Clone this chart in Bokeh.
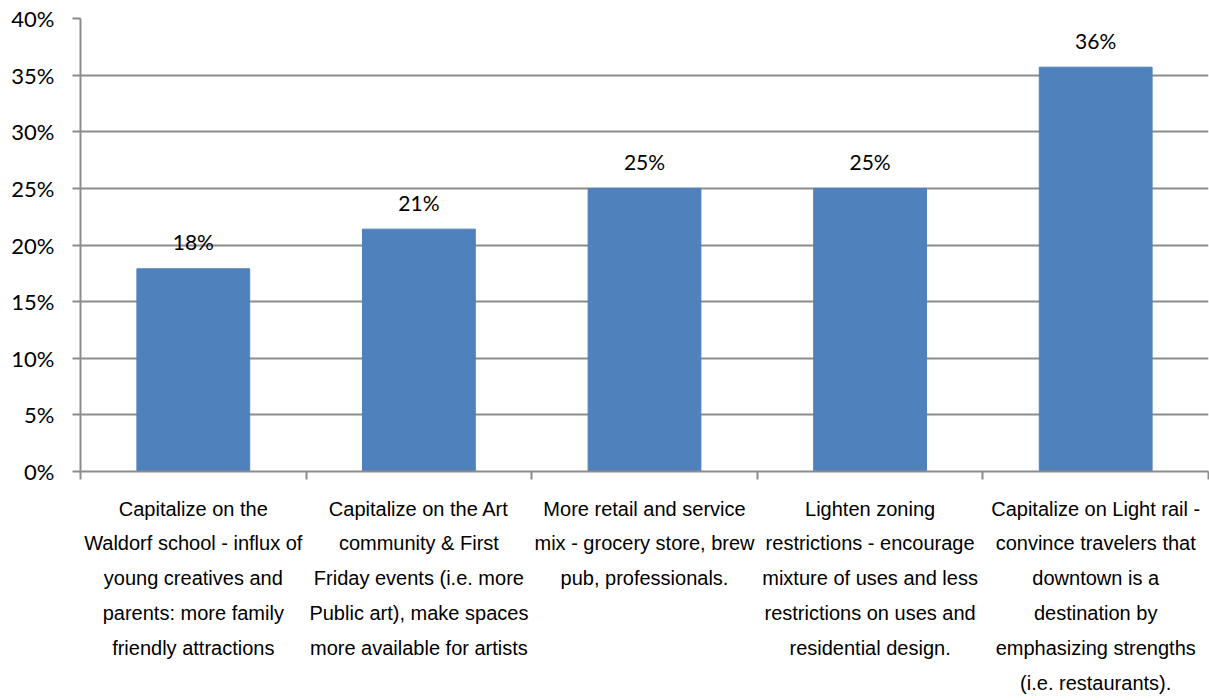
from bokeh.plotting import figure
from bokeh.models import Range1d, FixedTicker, NumeralTickFormatter, ColumnDataSource
from bokeh.core.properties import value
from bokeh.embed import file_html
from bokeh.resources import INLINE

categories = [
    "Capitalize on the\nWaldorf school - influx of\nyoung creatives and\nparents: more family\nfriendly attractions",
    "Capitalize on the Art\ncommunity & First\nFriday events (i.e. more\nPublic art), make spaces\nmore available for artists",
    "More retail and service\nmix - grocery store, brew\npub, professionals.",
    "Lighten zoning\nrestrictions - encourage\nmixture of uses and less\nrestrictions on uses and\nresidential design.",
    "Capitalize on Light rail -\nconvince travelers that\ndowntown is a\ndestination by\nemphasizing strengths\n(i.e. restaurants).",
]
values = [0.179, 0.214, 0.25, 0.25, 0.357]
value_labels = ["18%", "21%", "25%", "25%", "36%"]
y_ticks = [0, 0.05, 0.10, 0.15, 0.20, 0.25, 0.30, 0.35, 0.40]

xs = [i + 0.5 for i in range(len(categories))]
src = ColumnDataSource(dict(x=xs, top=values, lab=value_labels))

p = figure(width=1209, height=700, output_backend="svg", toolbar_location=None,
           x_range=Range1d(0, 5), y_range=Range1d(0, 0.40),
           min_border_left=80, min_border_right=1, min_border_top=18, min_border_bottom=229)
p.outline_line_color = None
p.background_fill_color = "white"

p.vbar(x="x", top="top", width=0.5, bottom=0, source=src, fill_color="#4F81BD", line_color="#4F81BD")
p.text(x="x", y="top", text="lab", source=src, text_align="center", text_baseline="alphabetic",
       y_offset=-27, text_font_size="21px", text_font=value("Lato"), text_color="#000000")

# y axis
p.yaxis.ticker = FixedTicker(ticks=y_ticks, minor_ticks=[])
p.yaxis.formatter = NumeralTickFormatter(format="0%")
p.yaxis.major_label_text_font = "Lato"
p.yaxis.major_label_text_font_size = "22px"
p.yaxis.major_label_text_color = "#000000"
p.yaxis.axis_line_color = "#8C8C8C"
p.yaxis.axis_line_width = 2
p.yaxis.major_tick_line_color = "#8C8C8C"
p.yaxis.major_tick_line_width = 2
p.yaxis.major_tick_out = 8
p.yaxis.major_tick_in = 0
p.yaxis.major_label_standoff = 18

p.ygrid.ticker = FixedTicker(ticks=y_ticks)
p.ygrid.grid_line_color = "#8C8C8C"
p.ygrid.grid_line_width = 2
p.xgrid.grid_line_color = None

# x axis
p.xaxis.ticker = FixedTicker(ticks=xs, minor_ticks=[0, 1, 2, 3, 4, 5])
p.xaxis.major_label_overrides = {x: c for x, c in zip(xs, categories)}
p.xaxis.major_label_text_font = "Liberation Sans"
p.xaxis.major_label_text_font_size = "20px"
p.xaxis.major_label_text_color = "#000000"
p.xaxis.major_label_text_line_height = 1.59
p.xaxis.major_label_standoff = 18
p.xaxis.major_tick_out = 0
p.xaxis.major_tick_in = 0
p.xaxis.minor_tick_out = 8
p.xaxis.minor_tick_in = 0
p.xaxis.minor_tick_line_color = "#8C8C8C"
p.xaxis.minor_tick_line_width = 2
p.xaxis.axis_line_color = "#8C8C8C"
p.xaxis.axis_line_width = 2

open("out.html", "w").write(file_html(p, INLINE))
